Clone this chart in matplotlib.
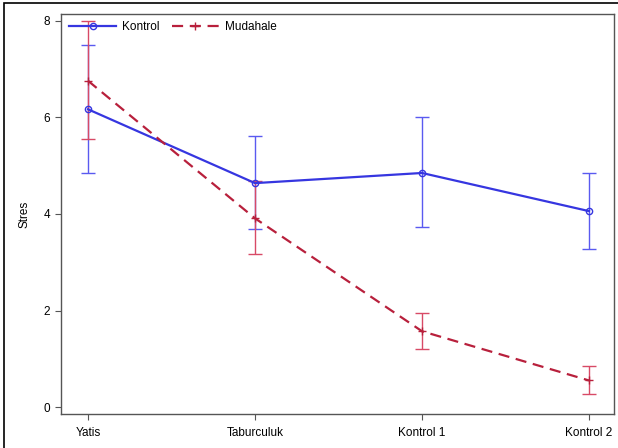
import numpy as np
import matplotlib.pyplot as plt
from matplotlib.patches import Rectangle

plt.rcParams['font.family'] = ['Liberation Sans', 'DejaVu Sans']

# Dane
zaman = ['Yatis', 'Taburculuk', 'Kontrol 1', 'Kontrol 2']

kontrol_ort = [6.17, 4.64, 4.85, 4.06]
kontrol_ust = [7.50, 5.62, 6.00, 4.84]
kontrol_alt = [4.84, 3.68, 3.74, 3.27]

mudahale_ort = [6.76, 3.91, 1.57, 0.55]
mudahale_ust = [7.99, 4.69, 1.94, 0.86]
mudahale_alt = [5.55, 3.17, 1.20, 0.26]

x = np.arange(len(zaman))

fig = plt.figure(figsize=(6.18, 4.48), dpi=100)
ax = fig.add_axes([61/618, 1 - 414/448, 553/618, 400/448])

# cerceve
fig.patches.append(Rectangle((4/618, -0.1), 1.2, 1 - 3/448 + 0.1, transform=fig.transFigure,
                             fill=False, edgecolor='black', linewidth=1.2))

mavi = '#3636e0'
kirmizi = '#b8203c'

# hata cubuklari
ax.errorbar(x, kontrol_ort,
            yerr=[np.array(kontrol_ort) - np.array(kontrol_alt),
                  np.array(kontrol_ust) - np.array(kontrol_ort)],
            fmt='none', ecolor='#5a5af0', elinewidth=1.0, capsize=5, capthick=1.0, zorder=2)
ax.errorbar(x, mudahale_ort,
            yerr=[np.array(mudahale_ort) - np.array(mudahale_alt),
                  np.array(mudahale_ust) - np.array(mudahale_ort)],
            fmt='none', ecolor='#d84a66', elinewidth=1.0, capsize=5, capthick=1.0, zorder=2)

ax.plot(x, kontrol_ort, '-', color=mavi, linewidth=1.6, marker='o', markersize=4.5,
        markerfacecolor='none', markeredgewidth=1.0, label='Kontrol', zorder=3)
ax.plot(x, mudahale_ort, '--', color=kirmizi, linewidth=1.6, marker='+', markersize=6,
        markeredgewidth=1.0, dashes=(5, 3), label='Mudahale', zorder=3)

ax.set_xlim(-0.162, 3.150)
ax.set_ylim(-0.145, 8.145)
ax.set_xticks(x)
ax.set_xticklabels(zaman, fontsize=8.5)
ax.set_yticks([0, 2, 4, 6, 8])
ax.tick_params(axis='y', labelsize=8.5, length=4, color='#555555', pad=4)
ax.tick_params(axis='x', length=4, color='#555555', pad=5)
ax.set_ylabel('Stres', fontsize=8.5, labelpad=9)

for s in ax.spines.values():
    s.set_color('#555555')
    s.set_linewidth(1.0)

ax.legend(loc='upper left', ncol=2, frameon=False, fontsize=8.5, handlelength=4.0,
          numpoints=1, columnspacing=1.0, handletextpad=0.5,
          bbox_to_anchor=(0.0, 1.003), borderaxespad=0.3)

fig.savefig('out.png', dpi=100)
